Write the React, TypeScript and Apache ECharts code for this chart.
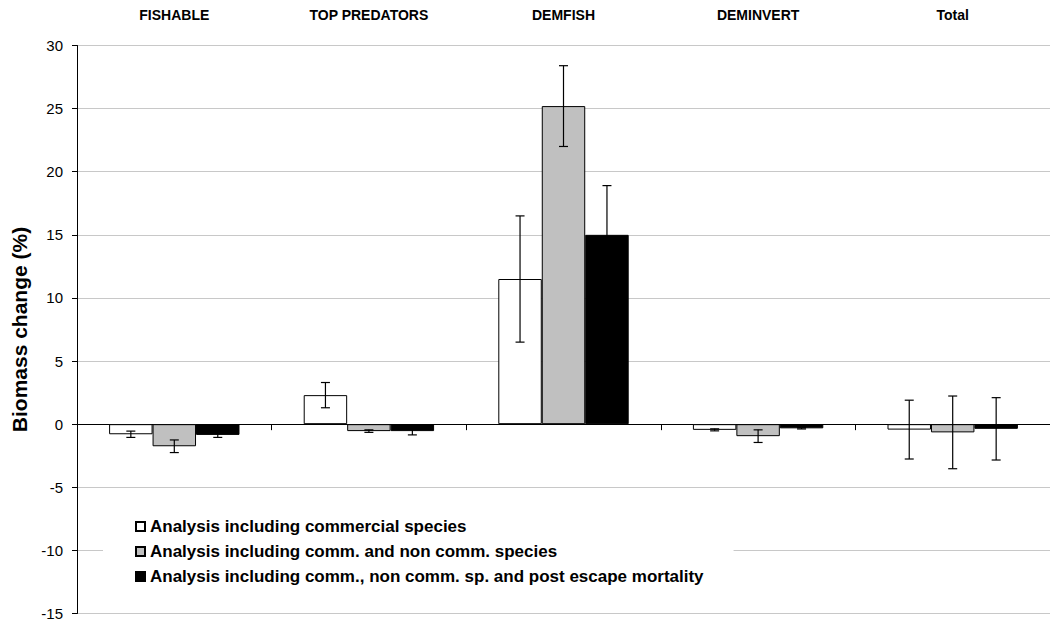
import React, { useEffect, useRef } from "react";
import * as echarts from "echarts";

// Functional groups along the x axis
const categories = ["FISHABLE", "TOP PREDATORS", "DEMFISH", "DEMINVERT", "Total"];

// Scenario names
const seriesNames = [
  "Analysis including commercial species",
  "Analysis including comm. and non comm. species",
  "Analysis including comm., non comm. sp. and post escape mortality",
];

// Mean biomass change (%) per scenario
const commercial = [-0.8, 2.3, 11.5, -0.45, -0.43];
const commNonComm = [-1.75, -0.55, 25.2, -0.95, -0.65];
const withEscape = [-0.85, -0.55, 15.0, -0.33, -0.37];

// Half-length of the error bars (same order)
const commercialErr = [0.25, 1.0, 5.0, 0.08, 2.33];
const commNonCommErr = [0.5, 0.1, 3.2, 0.5, 2.88];
const withEscapeErr = [0.2, 0.3, 3.9, 0.05, 2.47];

// Value-axis ticks
const yMin = -15;
const yMax = 30;
const yStep = 5;

const fills = ["#ffffff", "#c0c0c0", "#000000"];
const FONT = "'Liberation Sans', Arial, sans-serif";
const BAR_GAP_RATIO = 0.33;

export default function App() {
  const ref = useRef<HTMLDivElement>(null);

  useEffect(() => {
    if (!ref.current) return;
    const chart = echarts.init(ref.current, null, { renderer: "svg" });

    const values = [commercial, commNonComm, withEscape];
    const errors = [commercialErr, commNonCommErr, withEscapeErr];

    const errData: number[][] = [];
    values.forEach((vals, s) => {
      vals.forEach((v, i) => errData.push([i, v, errors[s][i], s]));
    });

    const barSeries = seriesNames.map((name, s) => ({
      name,
      type: "bar",
      data: values[s],
      barGap: "0%",
      barCategoryGap: "33%",
      itemStyle: { color: fills[s], borderColor: "#000", borderWidth: 1 },
      emphasis: { disabled: true },
      z: 2,
    }));

    chart.setOption({
      animation: false,
      backgroundColor: "#fff",
      textStyle: { fontFamily: FONT },
      grid: { left: 77, top: 45.5, width: 978, height: 569.5 },
      legend: {
        data: seriesNames,
        orient: "vertical",
        left: 103,
        top: 503,
        padding: [15, 30, 15, 32],
        backgroundColor: "#fff",
        itemWidth: 9,
        itemHeight: 9,
        itemGap: 8,
        icon: "rect",
        selectedMode: false,
        textStyle: { fontFamily: FONT, fontSize: 17, fontWeight: "bold", color: "#000" },
      },
      xAxis: [
        {
          type: "category",
          data: categories,
          position: "bottom",
          axisLine: { onZero: true, lineStyle: { color: "#000", width: 1 } },
          axisTick: { show: true, length: 6, lineStyle: { color: "#000" } },
          axisLabel: { show: false },
          splitLine: { show: false },
        },
        {
          type: "category",
          data: categories,
          position: "top",
          axisLine: { show: false },
          axisTick: { show: false },
          axisLabel: { margin: 24, fontFamily: FONT, fontSize: 14, fontWeight: "bold", color: "#000" },
        },
      ],
      yAxis: {
        type: "value",
        min: yMin,
        max: yMax,
        interval: yStep,
        name: "Biomass change (%)",
        nameLocation: "middle",
        nameGap: 47,
        nameTextStyle: { fontFamily: FONT, fontSize: 21, fontWeight: "bold", color: "#000" },
        axisLine: { show: true, lineStyle: { color: "#000", width: 1 } },
        axisTick: { show: true, length: 5, lineStyle: { color: "#000" } },
        axisLabel: { margin: 14, fontFamily: FONT, fontSize: 15, color: "#000" },
        splitLine: { show: true, lineStyle: { color: "#c8c8c8", width: 1 } },
      },
      series: [
        ...barSeries,
        {
          name: "errors",
          type: "custom",
          xAxisIndex: 0,
          data: errData,
          encode: { x: 0, y: 1 },
          z: 5,
          silent: true,
          renderItem: (params: any, api: any) => {
            const cat = api.value(0);
            const v = api.value(1);
            const e = api.value(2);
            const s = api.value(3);
            const band = api.size([1, 0])[0];
            const barW = (band * (1 - BAR_GAP_RATIO)) / 3;
            const center = api.coord([cat, v]);
            const x = center[0] + (s - 1) * barW;
            const yTop = api.coord([cat, v + e])[1];
            const yBot = api.coord([cat, v - e])[1];
            const cap = 4.5;
            const style = { stroke: "#000", lineWidth: 1.2 };
            return {
              type: "group",
              children: [
                { type: "line", shape: { x1: x, y1: yTop, x2: x, y2: yBot }, style },
                { type: "line", shape: { x1: x - cap, y1: yTop, x2: x + cap, y2: yTop }, style },
                { type: "line", shape: { x1: x - cap, y1: yBot, x2: x + cap, y2: yBot }, style },
              ],
            };
          },
        },
      ],
    });

    return () => chart.dispose();
  }, []);

  return (
    <div
      ref={ref}
      style={{ position: "fixed", left: 0, top: 0, width: 1050, height: 621, background: "#fff" }}
    />
  );
}
